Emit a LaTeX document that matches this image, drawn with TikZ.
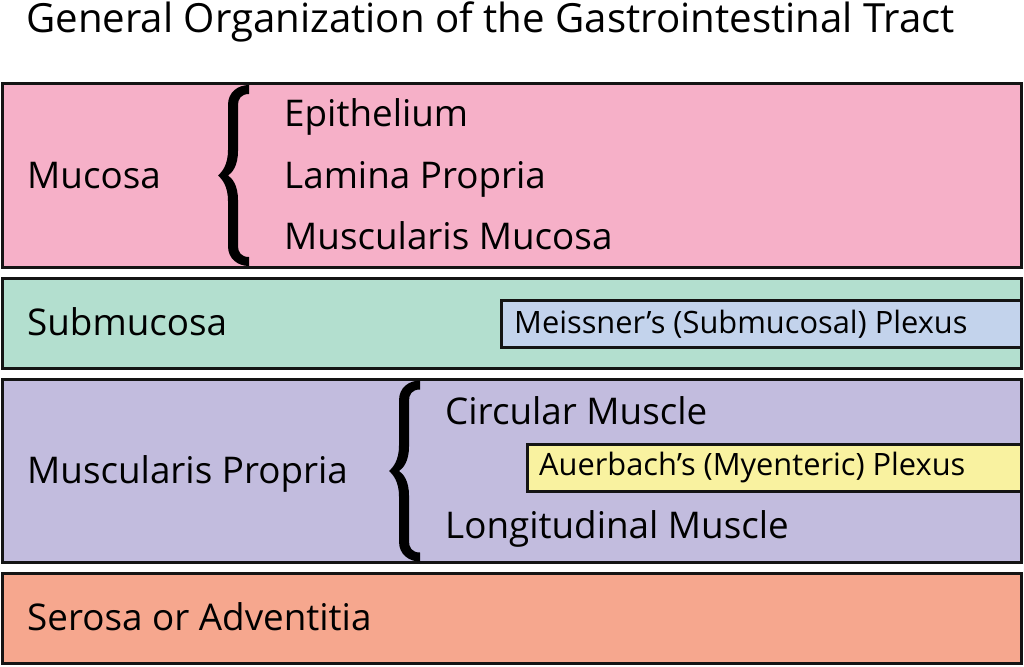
\documentclass[tikz,border=0pt]{standalone}
\usepackage{fontspec}
\setmainfont{Open Sans}
\definecolor{mucosa}{RGB}{246,176,200}
\definecolor{submuc}{RGB}{179,223,207}
\definecolor{muscp}{RGB}{194,188,222}
\definecolor{serosa}{RGB}{246,167,142}
\definecolor{meiss}{RGB}{195,211,236}
\definecolor{auer}{RGB}{249,242,160}
\definecolor{edge}{RGB}{20,20,20}
\begin{document}
\begin{tikzpicture}[x=1pt,y=-1pt,
  layer/.style={draw=edge,line width=3pt},
  lbl/.style={anchor=base west,inner sep=0pt,font=\fontsize{36.8}{40}\selectfont},
  small/.style={anchor=base west,inner sep=0pt,font=\fontsize{30.8}{34}\selectfont},
  gibrace/.pic={
    \fill[black] (31,-90.5) .. controls (20,-90.5) and (10,-83.5) .. (10,-70.5)
      -- (10,-25.5) .. controls (10,-10.5) and (4,-3.5) .. (0,0)
      .. controls (4,3.5) and (10,10.5) .. (10,25.5)
      -- (10,70.5) .. controls (10,83.5) and (20,90.5) .. (31,90.5)
      -- (31,81.5) .. controls (23,81.5) and (20,76.5) .. (20,70.5)
      -- (20,24.5) .. controls (20,9.5) and (14,2.5) .. (10,0)
      .. controls (14,-2.5) and (20,-9.5) .. (20,-24.5)
      -- (20,-70.5) .. controls (20,-76.5) and (23,-81.5) .. (31,-81.5) -- cycle;
  }]
\useasboundingbox (0,0) rectangle (1024,666);
\node[anchor=base west,inner sep=0pt,font=\fontsize{40.2}{44}\selectfont] (title) at (26,33) {General Organization of the Gastrointestinal Tract};
% layers
\draw[layer,fill=mucosa] (2,84) rectangle (1021,267);
\draw[layer,fill=submuc] (2,278) rectangle (1021,368);
\draw[layer,fill=muscp] (2,379) rectangle (1021,562);
\draw[layer,fill=serosa] (2,573) rectangle (1021,663);
\draw[layer,fill=meiss] (501,300) rectangle (1021,347);
\draw[layer,fill=auer] (527,444) rectangle (1021,491);
% braces
\pic at (218,175.5) {gibrace};
\pic at (389,471) {gibrace};
% labels
\node[lbl] (muc) at (27,188) {Mucosa};
\node[lbl] (epi) at (284,126) {Epithelium};
\node[lbl] (lam) at (284,188) {Lamina Propria};
\node[lbl] (mm) at (284,249) {Muscularis Mucosa};
\node[lbl] (sub) at (27,335) {Submucosa};
\node[small] (mei) at (514,333) {Meissner’s (Submucosal) Plexus};
\node[lbl] (mp) at (27,483) {Muscularis Propria};
\node[lbl] (circ) at (445,424) {Circular Muscle};
\node[small] (aue) at (539,475) {Auerbach’s (Myenteric) Plexus};
\node[lbl] (lon) at (445,538) {Longitudinal Muscle};
\node[lbl] (ser) at (27,630) {Serosa or Adventitia};
\end{tikzpicture}
\end{document}
